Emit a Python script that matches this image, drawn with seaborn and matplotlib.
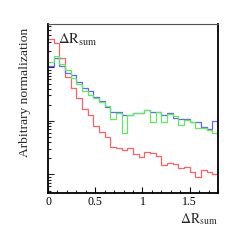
import numpy as np
import pandas as pd
import matplotlib
matplotlib.use("Agg")
import matplotlib.pyplot as plt
import seaborn as sns
from matplotlib.ticker import LogLocator, MultipleLocator, NullFormatter

bin_edges = [round(0.06 * i, 2) for i in range(31)]

red_vals = [0.348, 0.291, 0.1505, 0.0673, 0.0419, 0.0266, 0.0171, 0.0129, 0.00806, 0.00631,
            0.00509, 0.00323, 0.0031, 0.00287, 0.00309, 0.00239, 0.0021, 0.0026, 0.00249, 0.00225,
            0.00151, 0.00162, 0.0016, 0.0013, 0.0014, 0.0011, 0.00091, 0.00121, 0.00113, 0.00102]
blue_vals = [0.1044, 0.1486, 0.1067, 0.0789, 0.0709, 0.0536, 0.0414, 0.0364, 0.0285, 0.0232,
             0.0185, 0.0147, 0.0150, 0.0132, 0.0129, 0.0139, 0.0138, 0.0160, 0.0149, 0.0148,
             0.0129, 0.0138, 0.0114, 0.0111, 0.0109, 0.0096, 0.0096, 0.0077, 0.0071, 0.0098]
green_vals = [0.128, 0.164, 0.116, 0.0898, 0.0637, 0.0492, 0.0364, 0.0306, 0.0266, 0.0222,
              0.0191, 0.0109, 0.0141, 0.00584, 0.0127, 0.0143, 0.0139, 0.0157, 0.0097, 0.0149,
              0.0096, 0.0135, 0.0124, 0.0084, 0.0104, 0.0094, 0.0074, 0.0074, 0.0068, 0.0060]

x_ticks = [0, 0.5, 1, 1.5]
x_ticklabels = ["0", "0.5", "1", "1.5"]
x_label = r"$\Delta\mathrm{R}_{\mathrm{sum}}$"
y_label = "Arbitrary normalization"
inset_text = r"$\Delta\mathrm{R}_{\mathrm{sum}}$"

sns.set_style("white")
plt.rcParams["font.family"] = ["Liberation Serif", "DejaVu Serif"]
plt.rcParams["mathtext.fontset"] = "stix"

centers = [(bin_edges[i] + bin_edges[i + 1]) / 2 for i in range(30)]
df = pd.DataFrame({
    "x": centers * 3,
    "w": red_vals + blue_vals + green_vals,
    "s": ["red"] * 30 + ["blue"] * 30 + ["green"] * 30,
})

fig = plt.figure(figsize=(2.42, 2.42), dpi=100)
ax = fig.add_axes([48 / 242, 1 - 193 / 242, 170 / 242, 169 / 242])

colors = {"red": "#ff6262", "blue": "#6464ff", "green": "#60ea60"}
for s in ["red", "blue", "green"]:
    sub = df[df["s"] == s]
    sns.histplot(data=sub, x="x", weights="w", bins=bin_edges, element="step",
                 fill=False, color=colors[s], linewidth=0.9, ax=ax)

ax.set_yscale("log")
ax.set_xlim(0, 1.8)
ax.set_ylim(0.00045, 0.65)
ax.set_xticks(x_ticks)
ax.set_xticklabels(x_ticklabels)
ax.xaxis.set_minor_locator(MultipleLocator(0.1))
ax.yaxis.set_major_locator(LogLocator(base=10))
ax.yaxis.set_minor_locator(LogLocator(base=10, subs=np.arange(2, 10)))
ax.yaxis.set_major_formatter(NullFormatter())
ax.yaxis.set_minor_formatter(NullFormatter())
ax.tick_params(axis="x", which="major", direction="in", length=4, width=0.8,
               bottom=True, top=False, labelsize=8.5, pad=2.5, colors="black")
ax.tick_params(axis="x", which="minor", direction="in", length=2, width=0.8,
               bottom=True, top=False)
ax.tick_params(axis="y", which="major", direction="in", length=4, width=0.8,
               left=True, right=False)
ax.tick_params(axis="y", which="minor", direction="in", length=2, width=0.8,
               left=True, right=False)

ax.set_xlabel("")
ax.set_ylabel("")
for side in ["left", "bottom", "right"]:
    ax.spines[side].set_color("black")
    ax.spines[side].set_linewidth(1.3)
ax.spines["top"].set_color("#555555")
ax.spines["top"].set_linewidth(0.8)

fig.text(218 / 242, 1 - 219 / 242, x_label, ha="right", va="center", fontsize=10)
fig.text(25 / 242, 1 - 28 / 242, y_label, ha="center", va="top", rotation=90, fontsize=9.7)
ax.text(0.06, 0.955, inset_text, transform=ax.transAxes, ha="left", va="top", fontsize=10.5)

fig.savefig("out.png", dpi=100)
